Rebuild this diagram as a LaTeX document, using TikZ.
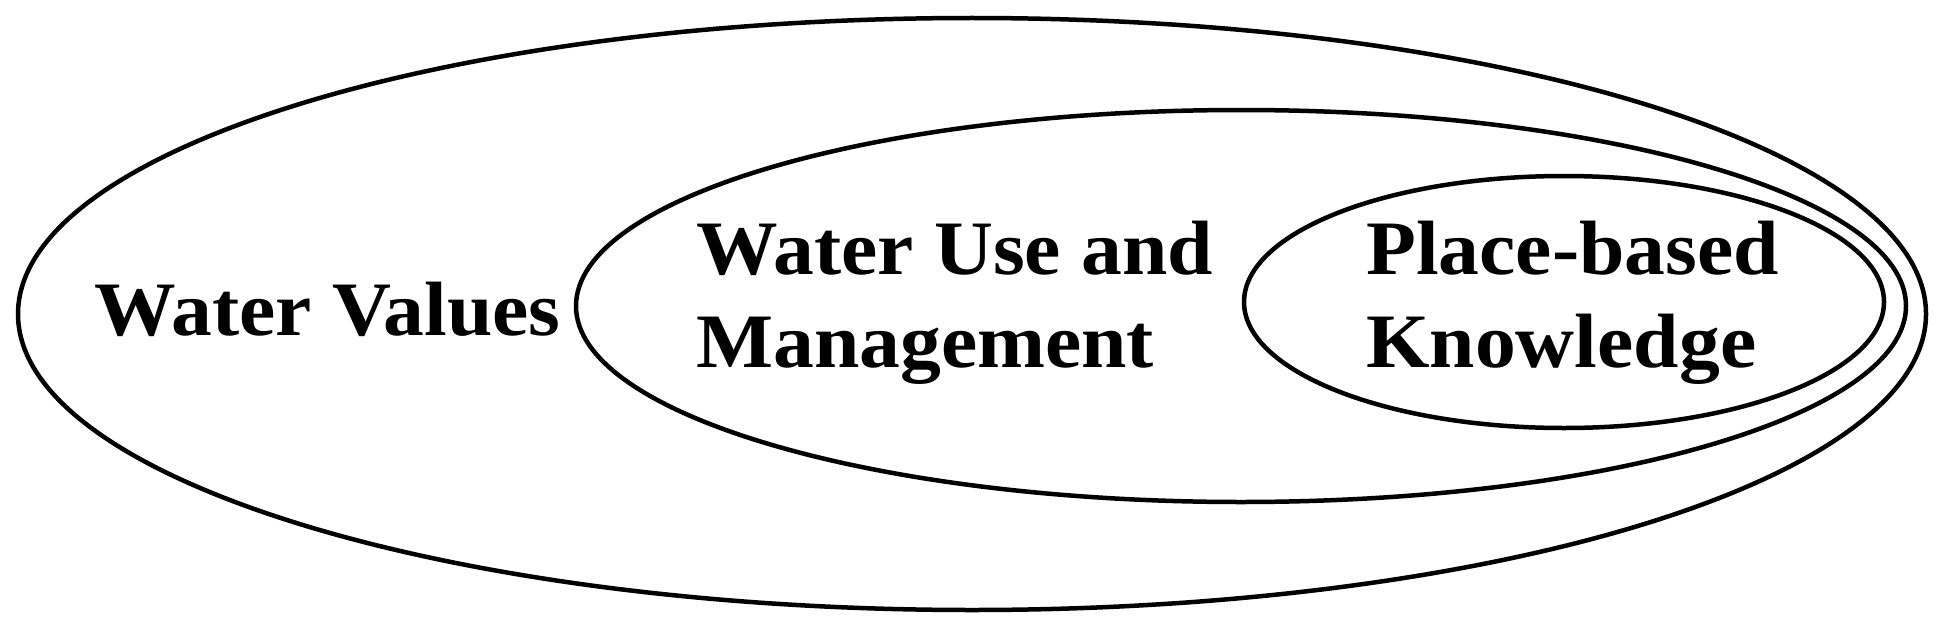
\documentclass[tikz,border=0pt]{standalone}
\usepackage{fontspec}
\setmainfont[FakeStretch=1.06]{Liberation Serif}
\begin{document}
\begin{tikzpicture}[x=1pt,y=-1pt,line width=4.5pt,
  lbl/.style={font=\fontsize{77}{93}\selectfont\bfseries,inner sep=0pt,anchor=base west,align=left}]
\useasboundingbox (0,0) rectangle (1937,626);
% nested sets
\draw (972,314) ellipse (954 and 296);
\draw (1241,306) ellipse (665 and 196);
\draw (1564,302) ellipse (320 and 126);
\node[lbl] (values) at (92,335) {Water Values};
\node[lbl] (use) at (694,367) {Water Use and\\Management};
\node[lbl] (place) at (1364,367) {Place-based\\Knowledge};
\end{tikzpicture}
\end{document}
